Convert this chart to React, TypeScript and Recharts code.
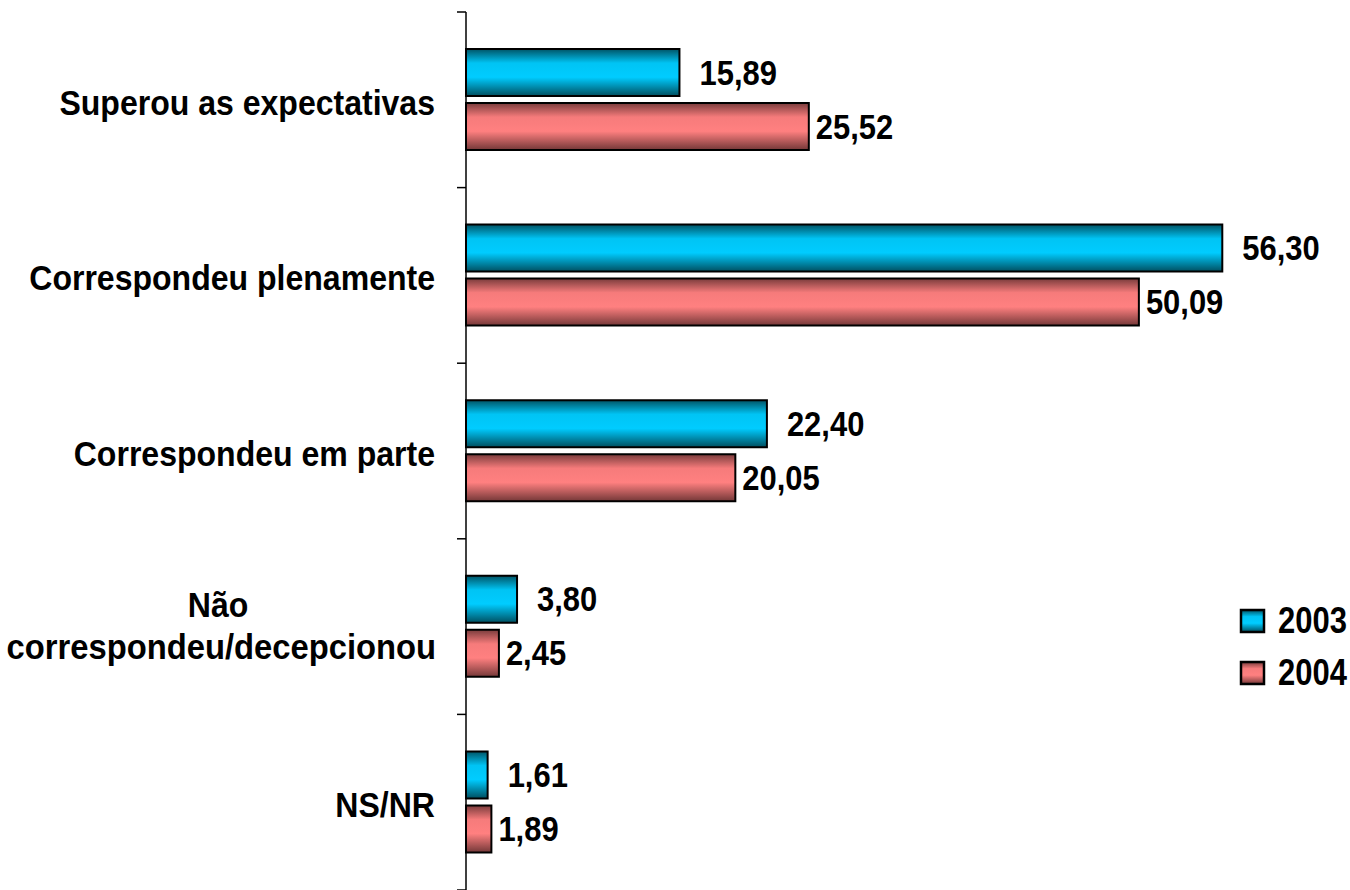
import { Bar, BarChart, LabelList, XAxis, YAxis } from "recharts";

const categories = [
  "Superou as expectativas",
  "Correspondeu plenamente",
  "Correspondeu em parte",
  "Não correspondeu/decepcionou",
  "NS/NR",
];
const values2003 = [15.89, 56.3, 22.4, 3.8, 1.61];
const values2004 = [25.52, 50.09, 20.05, 2.45, 1.89];
const seriesNames = ["2003", "2004"];

const data = categories.map((name, i) => ({
  name,
  y2003: values2003[i],
  y2004: values2004[i],
}));

const FONT = "'Liberation Sans', Arial, sans-serif";
const FS = 36;
const SX = 0.89;
const W = 1350;
const H = 890;
const MARGIN = { top: 12, right: 78, bottom: 0, left: 0 };
const BAND = (H - MARGIN.top - MARGIN.bottom) / categories.length;

const BLUE_STOPS = [
  ["0", "#005466"],
  ["0.3", "#00c4f4"],
  ["0.6", "#00ccff"],
  ["1", "#004f60"],
];
const RED_STOPS = [
  ["0", "#7a3c3c"],
  ["0.3", "#f67b7b"],
  ["0.6", "#ff8080"],
  ["1", "#743838"],
];

const fmt = (v: number) => v.toFixed(2).replace(".", ",");

function NarrowText({ x, y, anchor, sx = SX, children }: any) {
  return (
    <text
      transform={`translate(${x},${y}) scale(${sx},1)`}
      textAnchor={anchor}
      fontFamily={FONT}
      fontWeight="bold"
      fontSize={FS}
      fill="#000"
    >
      {children}
    </text>
  );
}

function CategoryTick(props: any) {
  const { x, y, payload, index } = props;
  const label: string = payload.value;
  const axisX = x + 8;
  const wrapped = label === "Não correspondeu/decepcionou";
  return (
    <g>
      <line x1={axisX - 9} x2={axisX} y1={y - BAND / 2} y2={y - BAND / 2} stroke="#000" strokeWidth={1.5} />
      {index === categories.length - 1 && (
        <line x1={axisX - 9} x2={axisX} y1={y + BAND / 2} y2={y + BAND / 2} stroke="#000" strokeWidth={1.5} />
      )}
      {wrapped ? (
        <>
          <NarrowText x={axisX - 248} y={y - 10} anchor="middle">Não</NarrowText>
          <NarrowText x={axisX - 30} y={y + 32} anchor="end" sx={0.91}>correspondeu/decepcionou</NarrowText>
        </>
      ) : (
        <NarrowText x={axisX - 31} y={y + 15} anchor="end">{label}</NarrowText>
      )}
    </g>
  );
}

function ValueLabel(offset: number) {
  return (props: any) => {
    const { x, y, width, height, value } = props;
    return (
      <NarrowText x={x + width + offset} y={y + height / 2 + 12} anchor="start" sx={0.86}>
        {fmt(Number(value))}
      </NarrowText>
    );
  };
}

function Grad({ id, stops }: { id: string; stops: string[][] }) {
  return (
    <linearGradient id={id} x1="0" y1="0" x2="0" y2="1">
      {stops.map(([o, c]) => (
        <stop key={o} offset={o} stopColor={c} />
      ))}
    </linearGradient>
  );
}

function LegendBox() {
  const stops = [BLUE_STOPS, RED_STOPS];
  return (
    <div style={{ position: "absolute", left: 1239, top: 595, fontFamily: FONT, fontWeight: "bold", fontSize: FS, color: "#000" }}>
      {seriesNames.map((s, i) => (
        <div key={s} style={{ display: "flex", alignItems: "center", height: 52 }}>
          <svg width={28} height={26} style={{ marginRight: 11 }}>
            <defs>
              <Grad id={`lg${i}`} stops={stops[i]} />
            </defs>
            <rect x={2} y={2} width={23} height={22} fill={`url(#lg${i})`} stroke="#000" strokeWidth={2.5} />
          </svg>
          <span style={{ display: "inline-block", transform: "scaleX(0.86)", transformOrigin: "left center" }}>{s}</span>
        </div>
      ))}
    </div>
  );
}

export default function App() {
  return (
    <div style={{ position: "absolute", left: 0, top: 0, width: W, height: H, background: "#fff" }}>
      <BarChart
        width={W}
        height={H}
        data={data}
        layout="vertical"
        margin={MARGIN}
        barSize={47}
        barGap={7}
      >
        <defs>
          <Grad id="gBlue" stops={BLUE_STOPS} />
          <Grad id="gRed" stops={RED_STOPS} />
        </defs>
        <XAxis type="number" domain={[0, 60]} hide />
        <YAxis
          type="category"
          dataKey="name"
          width={466}
          axisLine={{ stroke: "#000", strokeWidth: 1.5 }}
          tickLine={false}
          tick={<CategoryTick />}
          interval={0}
        />
        <Bar dataKey="y2003" name="2003" fill="url(#gBlue)" stroke="#000" strokeWidth={2} isAnimationActive={false}>
          <LabelList dataKey="y2003" content={ValueLabel(20)} />
        </Bar>
        <Bar dataKey="y2004" name="2004" fill="url(#gRed)" stroke="#000" strokeWidth={2} isAnimationActive={false}>
          <LabelList dataKey="y2004" content={ValueLabel(7)} />
        </Bar>
      </BarChart>
      <LegendBox />
    </div>
  );
}
